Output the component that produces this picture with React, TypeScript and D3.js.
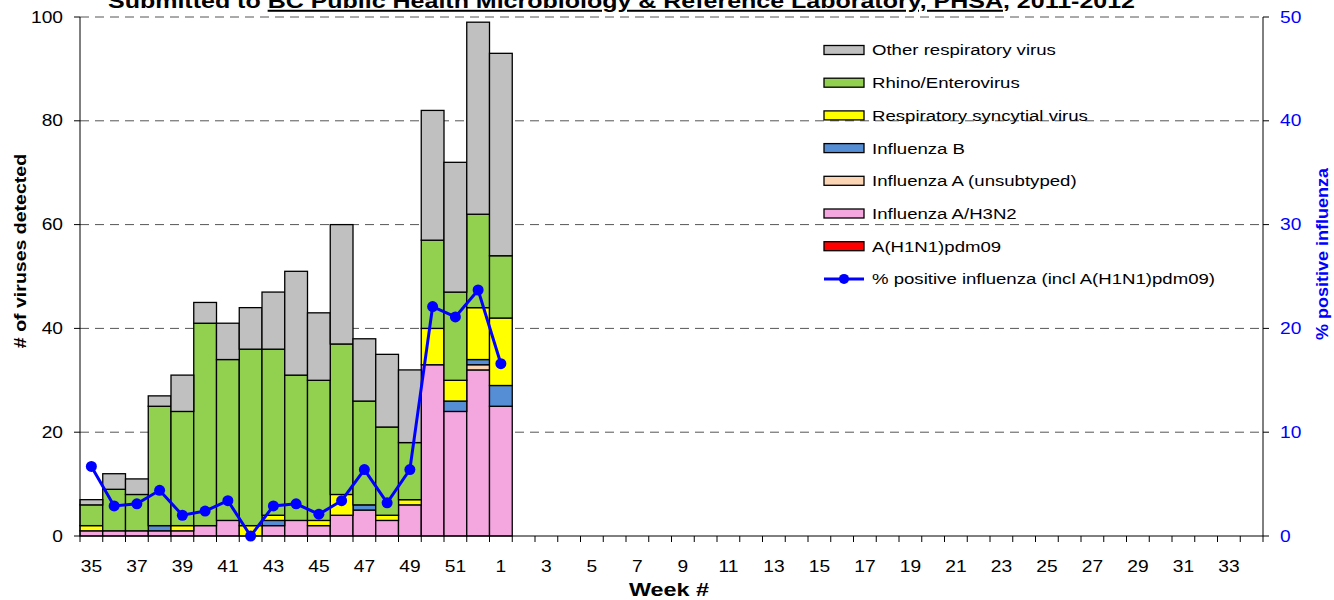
import React from "react";
import * as d3 from "d3";

const allWeeks: string[] = [
  ...d3.range(35, 53).map(String),
  ...d3.range(1, 35).map(String),
];
const dataWeeks: string[] = ["35","36","37","38","39","40","41","42","43","44","45","46","47","48","49","50","51","52","1"];
const tickWeeks: string[] = allWeeks.filter((_, i) => i % 2 === 0);

const h1n1: number[] =    [0,0,0,0,0,0,0,0,0,0,0,0,0,0,0,0,0,0,0];
const h3n2: number[] =    [1,1,1,1,1,2,3,0,2,3,2,4,5,3,6,33,24,32,25];
const fluAUnsub: number[] = [0,0,0,0,0,0,0,0,0,0,0,0,0,0,0,0,0,1,0];
const fluB: number[] =    [0,0,0,1,0,0,0,0,1,0,0,0,1,0,0,0,2,1,4];
const rsv: number[] =     [1,0,0,0,1,0,0,2,1,0,1,4,0,1,1,7,4,10,13];
const rhino: number[] =   [4,8,7,23,22,39,31,34,32,28,27,29,20,17,11,17,17,18,12];
const other: number[] =   [1,3,3,2,7,4,7,8,11,20,13,23,12,14,14,25,25,37,39];
const pctPositive: number[] = [6.7,2.9,3.1,4.4,2.0,2.4,3.4,0,2.9,3.1,2.1,3.4,6.4,3.2,6.4,22.1,21.1,23.7,16.6];

const leftTicks: number[] = [0, 20, 40, 60, 80, 100];
const rightTicks: number[] = [0, 10, 20, 30, 40, 50];

const seriesDefs = [
  { key: "h1n1", name: "A(H1N1)pdm09", color: "#FF0000", values: h1n1 },
  { key: "h3n2", name: "Influenza A/H3N2", color: "#F4A6DF", values: h3n2 },
  { key: "unsub", name: "Influenza A (unsubtyped)", color: "#FCD5B5", values: fluAUnsub },
  { key: "flub", name: "Influenza B", color: "#558ED5", values: fluB },
  { key: "rsv", name: "Respiratory syncytial virus", color: "#FFFF00", values: rsv },
  { key: "rhino", name: "Rhino/Enterovirus", color: "#92D050", values: rhino },
  { key: "other", name: "Other respiratory virus", color: "#C0C0C0", values: other },
];

const FONT = "'Liberation Sans', Arial, sans-serif";
const SX = 1.2;

export default function App() {
  const W = 1334, H = 600;
  const left = 80, right = 1263, top = 17, bottom = 536;

  const x = d3.scaleBand<string>().domain(allWeeks).range([left, right]).padding(0);
  const y = d3.scaleLinear().domain([0, 100]).range([bottom, top]);
  const y2 = d3.scaleLinear().domain([0, 50]).range([bottom, top]);

  const rows = dataWeeks.map((w, i) => {
    const r: any = { week: w };
    seriesDefs.forEach((s) => (r[s.key] = s.values[i]));
    return r;
  });
  const stack = d3.stack<any>().keys(seriesDefs.map((s) => s.key));
  const stacked = stack(rows);

  const line = d3
    .line<number>()
    .x((_, i) => (x(dataWeeks[i]) as number) + x.bandwidth() / 2)
    .y((d) => y2(d));

  const legendItems = [...seriesDefs].reverse();
  const legX = 824, legY0 = 50, legStep = 32.7;

  return (
    <svg width={W} height={H} style={{ position: "absolute", left: 0, top: 0, background: "#fff" }} fontFamily={FONT}>
      {/* title (second line, partially cut off at the top) */}
      <text transform="translate(108,8) scale(1.25,1)" textAnchor="start" fontSize={20} fontWeight="bold" fill="#000">
        <tspan>Submitted to </tspan>
        <tspan textDecoration="underline">BC Public Health Microbiology &amp; Reference Laboratory, PHSA</tspan>
        <tspan>, 2011-2012</tspan>
      </text>

      {/* gridlines */}
      {leftTicks.filter((t) => t > 0).map((t) => (
        <line key={"g" + t} x1={left} x2={right} y1={y(t)} y2={y(t)} stroke="#555" strokeWidth={1} strokeDasharray="9,6" />
      ))}

      {/* bars */}
      {stacked.map((layer, li) => (
        <g key={layer.key} fill={seriesDefs[li].color}>
          {layer.map((d, i) => {
            const h = y(d[0]) - y(d[1]);
            if (h <= 0) return null;
            return (
              <rect
                key={i}
                x={x(dataWeeks[i]) as number}
                y={y(d[1])}
                width={x.bandwidth()}
                height={h}
                stroke="#000"
                strokeWidth={1.3}
              />
            );
          })}
        </g>
      ))}

      {/* axes */}
      <line x1={left} x2={left} y1={top} y2={bottom} stroke="#000" strokeWidth={1} />
      <line x1={right} x2={right} y1={top} y2={bottom} stroke="#000" strokeWidth={1} />
      <line x1={left} x2={right} y1={bottom} y2={bottom} stroke="#000" strokeWidth={1} />
      {leftTicks.map((t) => (
        <g key={"l" + t}>
          <line x1={left - 6} x2={left} y1={y(t)} y2={y(t)} stroke="#000" />
          <text transform={`translate(63,${y(t)}) scale(${SX},1)`} dy="0.35em" textAnchor="end" fontSize={16} fill="#000">{t}</text>
        </g>
      ))}
      {rightTicks.map((t) => (
        <g key={"r" + t}>
          <line x1={right} x2={right + 6} y1={y2(t)} y2={y2(t)} stroke="#000" />
          <text transform={`translate(1280,${y2(t)}) scale(${SX},1)`} dy="0.35em" textAnchor="start" fontSize={16} fill="#0000FF">{t}</text>
        </g>
      ))}
      {allWeeks.map((w) => (
        <line key={"xt" + w} x1={x(w) as number} x2={x(w) as number} y1={bottom} y2={bottom + 6} stroke="#000" />
      ))}
      <line x1={right} x2={right} y1={bottom} y2={bottom + 6} stroke="#000" />
      {tickWeeks.map((w) => (
        <text key={"xl" + w} transform={`translate(${(x(w) as number) + x.bandwidth() / 2},572) scale(${SX},1)`} textAnchor="middle" fontSize={16} fill="#000">{w}</text>
      ))}

      {/* axis titles */}
      <text transform="translate(669,596) scale(1.3,1)" textAnchor="middle" fontSize={18} fontWeight="bold" fill="#000">Week #</text>
      <text transform="translate(26,251) rotate(-90) scale(1.15,1)" textAnchor="middle" fontSize={17} fontWeight="bold" fill="#000"># of viruses detected</text>
      <text transform="translate(1328,254) rotate(-90) scale(1.06,1)" textAnchor="middle" fontSize={17} fontWeight="bold" fill="#0000FF">% positive influenza</text>

      {/* percent line */}
      <path d={line(pctPositive) || ""} fill="none" stroke="#0000FF" strokeWidth={3} />
      {pctPositive.map((p, i) => (
        <circle key={"c" + i} cx={(x(dataWeeks[i]) as number) + x.bandwidth() / 2} cy={y2(p)} r={5.5} fill="#0000FF" />
      ))}

      {/* legend */}
      {legendItems.map((s, i) => (
        <g key={"leg" + s.key}>
          <rect x={legX} y={legY0 + i * legStep - 4.5} width={40} height={9} fill={s.color} stroke="#000" strokeWidth={1.3} />
          <text transform={`translate(872,${legY0 + i * legStep}) scale(${SX},1)`} dy="0.35em" fontSize={15.5} fill="#000">{s.name}</text>
        </g>
      ))}
      <g>
        <line x1={legX} x2={legX + 40} y1={legY0 + 7 * legStep} y2={legY0 + 7 * legStep} stroke="#0000FF" strokeWidth={3} />
        <circle cx={legX + 20} cy={legY0 + 7 * legStep} r={5} fill="#0000FF" />
        <text transform={`translate(872,${legY0 + 7 * legStep}) scale(${SX},1)`} dy="0.35em" fontSize={15.5} fill="#000">% positive influenza (incl A(H1N1)pdm09)</text>
      </g>
    </svg>
  );
}
